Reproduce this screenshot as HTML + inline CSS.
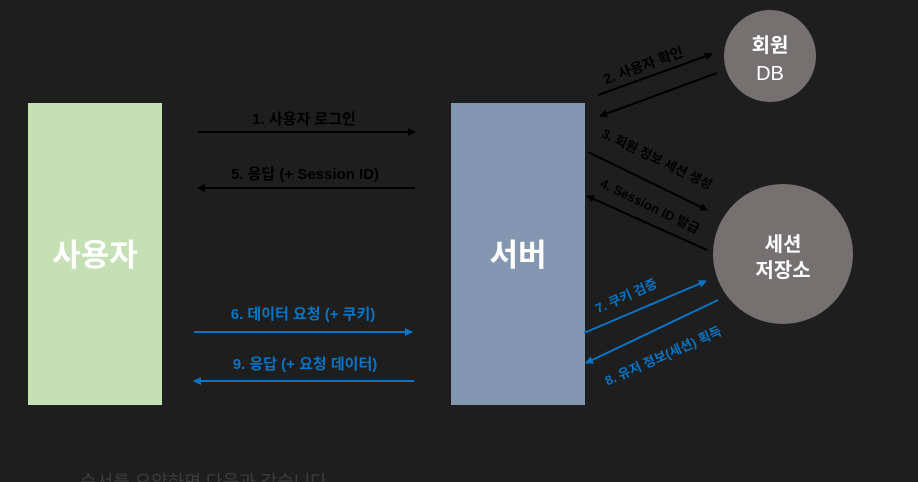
<!DOCTYPE html>
<html><head><meta charset="utf-8"><style>
html,body{margin:0;padding:0;background:#1e1e1e;width:918px;height:482px;overflow:hidden}
svg{display:block;font-family:"Liberation Sans","Noto Sans CJK KR",sans-serif}
</style></head><body>
<svg width="918" height="482" viewBox="0 0 918 482">
<defs>
<marker id="ak" markerWidth="8" markerHeight="8" refX="7" refY="4" orient="auto" markerUnits="userSpaceOnUse"><path d="M0,0 L8,4 L0,8 z" fill="#000"/></marker>
<marker id="ab" markerWidth="8" markerHeight="8" refX="7" refY="4" orient="auto" markerUnits="userSpaceOnUse"><path d="M0,0 L8,4 L0,8 z" fill="#0a74c4"/></marker>
</defs>
<rect x="28" y="103" width="134" height="302" fill="#c5e0b4"/>
<text x="95" y="266" text-anchor="middle" fill="#fff" font-size="31" font-weight="bold">사용자</text>
<rect x="451" y="103" width="134" height="302" fill="#8497b0"/>
<text x="518" y="266" text-anchor="middle" fill="#fff" font-size="31" font-weight="bold">서버</text>
<circle cx="770" cy="56" r="46" fill="#767171"/>
<text x="770" y="52" text-anchor="middle" fill="#fff" font-size="20" font-weight="bold">회원</text>
<text x="770" y="80" text-anchor="middle" fill="#fff" font-size="20">DB</text>
<circle cx="783" cy="254" r="70" fill="#767171"/>
<text x="783" y="251" text-anchor="middle" fill="#fff" font-size="20" font-weight="bold">세션</text>
<text x="783" y="277" text-anchor="middle" fill="#fff" font-size="20" font-weight="bold">저장소</text>

<g stroke="#000" stroke-width="2" marker-end="url(#ak)">
<line x1="198" y1="132" x2="415" y2="132"/>
<line x1="415" y1="188" x2="198" y2="188"/>
<line x1="598" y1="95" x2="712" y2="54"/>
<line x1="717" y1="73" x2="600" y2="116"/>
<line x1="588" y1="152" x2="707" y2="210"/>
<line x1="707" y1="250" x2="587" y2="196"/>
</g>
<g stroke="#0a74c4" stroke-width="2" marker-end="url(#ab)">
<line x1="194" y1="332" x2="412" y2="332"/>
<line x1="414" y1="381" x2="194" y2="381"/>
<line x1="584" y1="333" x2="706" y2="281"/>
<line x1="718" y1="300" x2="586" y2="363"/>
</g>

<g font-size="15" fill="#000" font-weight="bold">
<text x="304" y="124" text-anchor="middle">1. 사용자 로그인</text>
<text x="305" y="179" text-anchor="middle">5. 응답 (+ Session ID)</text>
<text transform="translate(645,70) rotate(-20)" text-anchor="middle" font-size="14">2. 사용자 확인</text>
<text transform="translate(655,163) rotate(26)" text-anchor="middle" font-size="13">3. 회원 정보 세션 생성</text>
<text transform="translate(648,210) rotate(26)" text-anchor="middle" font-size="13">4. Session ID 발급</text>
</g>
<g font-size="15" fill="#0a74c4" font-weight="bold">
<text x="303" y="319" text-anchor="middle">6. 데이터 요청 (+ 쿠키)</text>
<text x="305" y="369" text-anchor="middle">9. 응답 (+ 요청 데이터)</text>
<text transform="translate(628,300) rotate(-24)" text-anchor="middle" font-size="13">7. 쿠키 검증</text>
<text transform="translate(665,360) rotate(-24)" text-anchor="middle" font-size="13">8. 유저 정보(세션) 획득</text>
</g>
<text x="80" y="488" fill="#3c3c3c" font-size="18">순서를 요약하면 다음과 같습니다.</text>
</svg>
</body></html>
